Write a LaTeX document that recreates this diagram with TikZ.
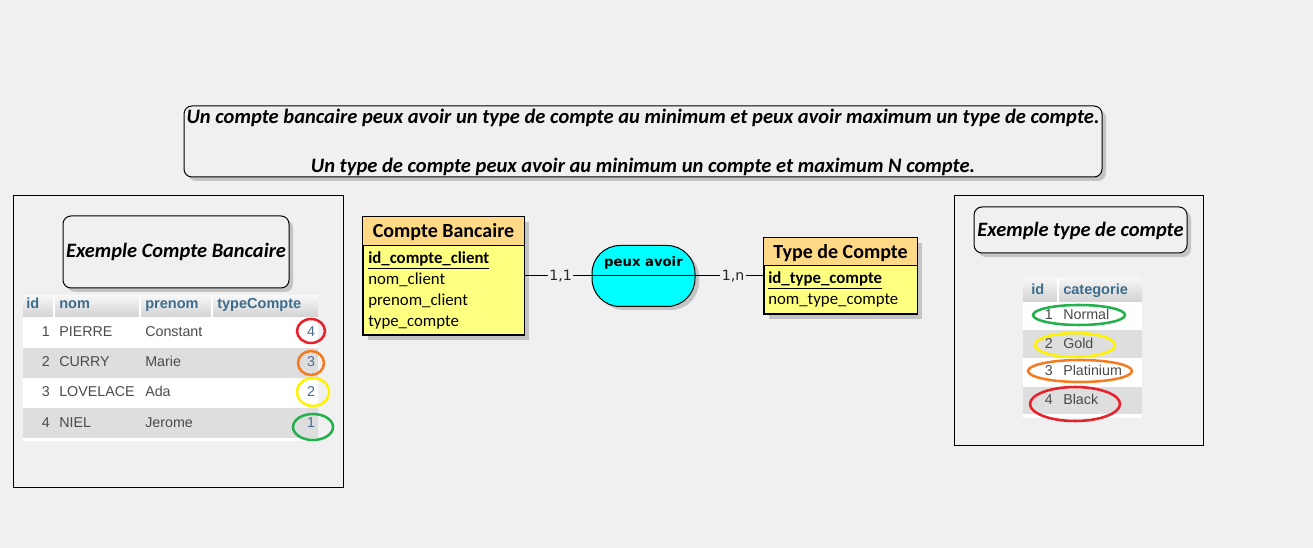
\documentclass[tikz,border=0pt]{standalone}
\usepackage{fontspec}
\setmainfont{Carlito}
\newfontfamily\tabfont{Liberation Sans}
\newfontfamily\dvfont{DejaVu Sans}
\usetikzlibrary{shapes.geometric}
\definecolor{bg}{HTML}{F0F0F0}
\definecolor{shadowc}{HTML}{C4C4C4}
\definecolor{enthead}{HTML}{FFD986}
\definecolor{entbody}{HTML}{FFFF80}
\definecolor{assocc}{HTML}{00FFFF}
\definecolor{rowgray}{HTML}{DEDEDE}
\definecolor{hdrtop}{HTML}{F6F6F6}
\definecolor{hdrbot}{HTML}{D2D2D2}
\definecolor{hdrtext}{HTML}{3E6C8C}
\definecolor{rowtext}{HTML}{4A4A4A}
\definecolor{valtext}{HTML}{4A6A90}
\definecolor{cred}{HTML}{E8202A}
\definecolor{corange}{HTML}{F47C20}
\definecolor{cyellow}{HTML}{FFF200}
\definecolor{cgreen}{HTML}{22B14C}
\begin{document}
\begin{tikzpicture}[x=0.75pt,y=-0.75pt,
  bitext/.style={font=\fontsize{15.4pt}{18pt}\selectfont\bfseries\itshape, inner sep=0pt, anchor=base},
  extext/.style={font=\fontsize{15.3pt}{18pt}\selectfont\bfseries\itshape, inner sep=0pt, anchor=base},
  rbox/.style={draw=black, fill=bg, rounded corners=6pt, line width=0.75pt},
  entbox/.style={draw=black, line width=0.75pt, inner sep=0pt},
  enttitle/.style={font=\fontsize{15pt}{18pt}\selectfont\bfseries, inner sep=0pt, anchor=base},
  attr/.style={font=\fontsize{12.6pt}{15pt}\selectfont, inner sep=0pt, anchor=base west},
  card/.style={font=\dvfont\fontsize{10.6pt}{12pt}\selectfont, inner sep=1pt, text=black!85},
  hdr/.style={font=\tabfont\bfseries\fontsize{10.9pt}{12pt}\selectfont, text=hdrtext, inner sep=0pt, anchor=base west},
  cell/.style={font=\tabfont\fontsize{10.7pt}{12pt}\selectfont, text=rowtext, inner sep=0pt, anchor=base west},
  cellr/.style={cell, anchor=base east},
  valc/.style={cell, text=valtext, anchor=base},
  ring/.style={line width=1.9pt}
]
\useasboundingbox (0,0) rectangle (1313,548);
\fill[bg] (0,0) rectangle (1313,548);

% ---------- top statement box ----------
\fill[shadowc, rounded corners=6pt] (188,110) rectangle (1106,181);
\draw[rbox] (184,106) rectangle (1102,177);
\node[bitext] (stmt1) at (643,124) {Un compte bancaire peux avoir un type de compte au minimum et peux avoir maximum un type de compte.};
\node[bitext] (stmt2) at (643,173) {Un type de compte peux avoir au minimum un compte et maximum N compte.};

% ---------- left example panel ----------
\draw[black, line width=0.75pt] (13,196) rectangle (343,487);
\fill[shadowc, rounded corners=6pt] (67,220) rectangle (293,292);
\draw[rbox] (63,216) rectangle (289,288);
\node[extext] (excb) at (176,258) {Exemple Compte Bancaire};

% table
\fill[white] (23,296) rectangle (318,441);
\shade[top color=hdrtop, bottom color=hdrbot] (23,296) rectangle (318,317);
\draw[white, line width=1.2pt] (54,296) -- (54,317) (140,296) -- (140,317) (212,296) -- (212,317);
\fill[rowgray] (23,348) rectangle (318,378);
\fill[rowgray] (23,408) rectangle (318,438);
\node[hdr] (h1) at (26,309) {id};
\node[hdr] (h2) at (59,309) {nom};
\node[hdr] (h3) at (145,309) {prenom};
\node[hdr] (h4) at (217,309) {typeCompte};

\node[cellr] (r1a) at (50,337) {1};
\node[cell] (r1b) at (59,337) {PIERRE};
\node[cell] (r1c) at (145,337) {Constant};
\node[valc] (r1d) at (311,337) {4};
\node[cellr] (r2a) at (50,367) {2};
\node[cell] (r2b) at (59,367) {CURRY};
\node[cell] (r2c) at (145,367) {Marie};
\node[valc] (r2d) at (311,367) {3};
\node[cellr] (r3a) at (50,397) {3};
\node[cell] (r3b) at (59,397) {LOVELACE};
\node[cell] (r3c) at (145,397) {Ada};
\node[valc] (r3d) at (311,397) {2};
\node[cellr] (r4a) at (50,428) {4};
\node[cell] (r4b) at (59,428) {NIEL};
\node[cell] (r4c) at (145,428) {Jerome};
\node[valc] (r4d) at (311,428) {1};

\draw[ring, cred] (311,331) ellipse [x radius=14, y radius=12];
\draw[ring, corange] (311,363) ellipse [x radius=13, y radius=12];
\draw[ring, cyellow] (313,392) ellipse [x radius=16, y radius=14];
\draw[ring, cgreen] (313,427) ellipse [x radius=20, y radius=13];

% ---------- entity Compte Bancaire ----------
\fill[shadowc] (368,222) rectangle (529,340);
\node[entbox, fill=entbody, minimum width=120.75pt, minimum height=88.5pt] (cb) at (443.5,276) {};
\fill[enthead] (cb.north west) rectangle (524,246);
\draw[line width=0.75pt] (363,246) -- (524,246);
\draw[line width=0.75pt] (cb.north west) rectangle (cb.south east);
\node[enttitle] (cbt) at (443.5,238) {Compte Bancaire};
\node[attr, font=\fontsize{12.6pt}{15pt}\selectfont\bfseries] (cba1) at (368,264) {\underline{id\_compte\_client}};
\node[attr] (cba2) at (368,285) {nom\_client};
\node[attr] (cba3) at (368,306) {prenom\_client};
\node[attr] (cba4) at (368,327) {type\_compte};

% ---------- entity Type de Compte ----------
\fill[shadowc] (769,243) rectangle (922,319);
\node[entbox, fill=entbody, minimum width=114.75pt, minimum height=57pt] (tc) at (840.5,276) {};
\fill[enthead] (tc.north west) rectangle (917,266);
\draw[line width=0.75pt] (764,266) -- (917,266);
\draw[line width=0.75pt] (tc.north west) rectangle (tc.south east);
\node[enttitle] (tct) at (840.5,259) {Type de Compte};
\node[attr, font=\fontsize{12.6pt}{15pt}\selectfont\bfseries] (tca1) at (768,284) {\underline{id\_type\_compte}};
\node[attr] (tca2) at (768,305) {nom\_type\_compte};

% ---------- association ----------
\fill[shadowc, rounded corners=21pt] (596,249) rectangle (699,310);
\node[draw=black, line width=0.75pt, fill=assocc, rounded corners=21pt, minimum width=77.25pt, minimum height=45.75pt, inner sep=0pt] (assoc) at (643.5,276) {};
\node[font=\dvfont\bfseries\fontsize{9.9pt}{11pt}\selectfont, inner sep=0pt, anchor=base] (assoct) at (643.5,266.5) {peux avoir};

% ---------- connectors ----------
\node[card] (l11) at (560.5,276) {1,1};
\node[card] (l1n) at (733,276) {1,n};
\draw[line width=0.75pt] (cb.east) -- (l11.west);
\draw[line width=0.75pt] (l11.east) -- (assoc.west);
\draw[line width=0.75pt] (assoc.west) -- (assoc.east);
\draw[line width=0.75pt] (assoc.east) -- (l1n.west);
\draw[line width=0.75pt] (l1n.east) -- (tc.west);

% ---------- right example panel ----------
\draw[black, line width=0.75pt] (954,196) rectangle (1203,446);
\fill[shadowc, rounded corners=6pt] (978,211) rectangle (1191,257);
\draw[rbox] (974,207) rectangle (1187,253);
\node[extext] (extc) at (1080.5,237) {Exemple type de compte};

\fill[white] (1023,278) rectangle (1142,418);
\shade[top color=hdrtop, bottom color=hdrbot] (1023,278) rectangle (1142,302);
\draw[white, line width=1.2pt] (1058,278) -- (1058,302);
\fill[rowgray] (1023,330) rectangle (1142,358);
\fill[rowgray] (1023,387) rectangle (1142,414);
\node[hdr] (th1) at (1031,295) {id};
\node[hdr] (th2) at (1063,295) {categorie};
\node[cellr] (t1a) at (1053,320) {1};
\node[cell] (t1b) at (1063,320) {Normal};
\node[cellr] (t2a) at (1053,349) {2};
\node[cell] (t2b) at (1063,349) {Gold};
\node[cellr] (t3a) at (1053,376) {3};
\node[cell] (t3b) at (1063,376) {Platinium};
\node[cellr] (t4a) at (1053,405) {4};
\node[cell] (t4b) at (1063,405) {Black};

\draw[ring, cgreen] (1079,315) ellipse [x radius=46, y radius=10];
\draw[ring, cyellow] (1075,345) ellipse [x radius=40, y radius=12];
\draw[ring, corange] (1080,371) ellipse [x radius=52, y radius=11];
\draw[ring, cred] (1075,404) ellipse [x radius=45, y radius=17];
\end{tikzpicture}
\end{document}
